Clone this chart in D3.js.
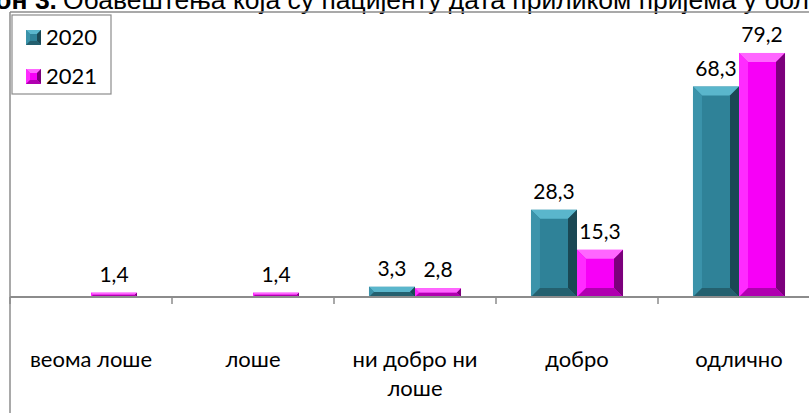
<!DOCTYPE html>
<html>
<head>
<meta charset="utf-8">
<script src="https://cdn.jsdelivr.net/npm/d3@7"></script>
<style>
  body { margin: 0; background: #fff; }
  svg { display: block; }
</style>
</head>
<body>
<div id="chart"></div>
<script>
// data
var categories = ['веома лоше', 'лоше', 'ни добро ни лоше', 'добро', 'одлично'];
var series = ['2020', '2021'];
var values2020 = [0, 0, 3.3, 28.3, 68.3];
var values2021 = [1.4, 1.4, 2.8, 15.3, 79.2];
var titleBold = 'Графикон 3.';
var titleText = 'Обавештења која су пацијенту дата приликом пријема у болницу';

var width = 809, height = 413;
var plotLeft = 10, plotTop = 12, base = 297;

var svg = d3.select('#chart')
  .append('svg')
    .attr('width', width)
    .attr('height', height);

// colours for each series: main, top, left, right, bottom
var pal = {
  '2020': {main: '#2f8298', top: '#5ab6cc', left: '#3b93aa', right: '#1a4854', bottom: '#24606f'},
  '2021': {main: '#f700f7', top: '#ff66ff', left: '#ff2bff', right: '#7c007c', bottom: '#b000b0'}
};

// scales
var x0 = d3.scaleBand()
  .domain(categories)
  .range([plotLeft, plotLeft + 162 * categories.length])
  .paddingInner(0);
var x1 = d3.scaleBand()
  .domain(series)
  .range([0, x0.bandwidth()])
  .paddingInner(0)
  .paddingOuter(0.76);
var y = d3.scaleLinear()
  .domain([0, 92.5])
  .range([base, plotTop]);

// title (cut off at the top and right)
svg.append('text')
  .attr('x', 57)
  .attr('y', 9)
  .attr('text-anchor', 'end')
  .style('font-family', 'Liberation Sans, Arial, sans-serif')
  .style('font-size', '26.5px')
  .style('font-weight', 'bold')
  .text(titleBold);
svg.append('text')
  .attr('x', 63)
  .attr('y', 9)
  .style('font-family', 'Liberation Sans, Arial, sans-serif')
  .style('font-size', '26.5px')
  .text(titleText);

// plot border (top and left)
svg.append('line')
  .attr('x1', plotLeft).attr('x2', width)
  .attr('y1', plotTop).attr('y2', plotTop)
  .attr('stroke', '#8c8c8c').attr('stroke-width', 1.5);
svg.append('line')
  .attr('x1', plotLeft).attr('x2', plotLeft)
  .attr('y1', plotTop).attr('y2', height)
  .attr('stroke', '#8c8c8c').attr('stroke-width', 1.5);

// bevelled box
function bevelBox(g, x, yy, w, h, c, b) {
  b = Math.min(b, w / 2, h / 2);
  g.append('rect').attr('x', x).attr('y', yy).attr('width', w).attr('height', h).attr('fill', c.main);
  var pts = [
    [[x, yy], [x + w, yy], [x + w - b, yy + b], [x + b, yy + b], c.top],
    [[x, yy], [x + b, yy + b], [x + b, yy + h - b], [x, yy + h], c.left],
    [[x + w, yy], [x + w, yy + h], [x + w - b, yy + h - b], [x + w - b, yy + b], c.right],
    [[x, yy + h], [x + b, yy + h - b], [x + w - b, yy + h - b], [x + w, yy + h], c.bottom]
  ];
  pts.forEach(function(p) {
    g.append('polygon')
      .attr('points', p.slice(0, 4).map(function(q) { return q.join(','); }).join(' '))
      .attr('fill', p[4]);
  });
}

// bars
var rows = categories.map(function(cat, i) {
  return {cat: cat, vals: [{s: '2020', v: values2020[i]}, {s: '2021', v: values2021[i]}]};
});

var groups = svg.selectAll('g.cat')
  .data(rows)
  .enter()
  .append('g')
    .attr('class', 'cat')
    .attr('transform', function(d) { return 'translate(' + x0(d.cat) + ',0)'; });

groups.each(function(d) {
  var g = d3.select(this);
  d.vals.forEach(function(e) {
    if (e.v <= 0) return;
    var bx = x1(e.s), by = y(e.v), bh = base - y(e.v);
    bevelBox(g, bx, by, x1.bandwidth(), bh, pal[e.s], 9);
    g.append('text')
      .attr('x', bx + x1.bandwidth() / 2)
      .attr('y', by - 11)
      .attr('text-anchor', 'middle')
      .style('font-family', 'Lato, sans-serif')
      .style('font-size', '21px')
      .attr('fill', '#000')
      .text(d3.format('.1f')(e.v).replace('.', ','));
  });
});

// category axis
svg.append('line')
  .attr('x1', plotLeft).attr('x2', width)
  .attr('y1', base).attr('y2', base)
  .attr('stroke', '#8c8c8c').attr('stroke-width', 2);
svg.selectAll('line.tick')
  .data(categories.concat(['end']))
  .enter()
  .append('line')
    .attr('class', 'tick')
    .attr('x1', function(d, i) { return plotLeft + i * x0.step(); })
    .attr('x2', function(d, i) { return plotLeft + i * x0.step(); })
    .attr('y1', base).attr('y2', base + 7)
    .attr('stroke', '#8c8c8c').attr('stroke-width', 1.5);

// category labels (wrapped like the original)
var wrapped = {'ни добро ни лоше': ['ни добро ни', 'лоше']};
svg.selectAll('text.cat')
  .data(categories)
  .enter()
  .append('text')
    .attr('class', 'cat')
    .attr('x', function(d) { return x0(d) + x0.bandwidth() / 2; })
    .attr('y', 367)
    .attr('text-anchor', 'middle')
    .style('font-family', 'Lato, sans-serif')
    .style('font-size', '22px')
    .each(function(d) {
      var lines = wrapped[d] || [d];
      var t = d3.select(this);
      lines.forEach(function(l, i) {
        t.append('tspan')
          .attr('x', x0(d) + x0.bandwidth() / 2)
          .attr('dy', i === 0 ? 0 : 29)
          .text(l);
      });
    });

// legend
var lg = svg.append('g');
lg.append('rect')
  .attr('x', 12).attr('y', 15)
  .attr('width', 99).attr('height', 79)
  .attr('fill', '#fff')
  .attr('stroke', '#8c8c8c').attr('stroke-width', 1.2);
series.forEach(function(s, i) {
  var cy = 37 + i * 39;
  bevelBox(lg, 26, cy - 7, 15, 15, pal[s], 4);
  lg.append('text')
    .attr('x', 46)
    .attr('y', cy + 8)
    .style('font-family', 'Lato, sans-serif')
    .style('font-size', '22px')
    .text(s);
});
</script>
</body>
</html>
